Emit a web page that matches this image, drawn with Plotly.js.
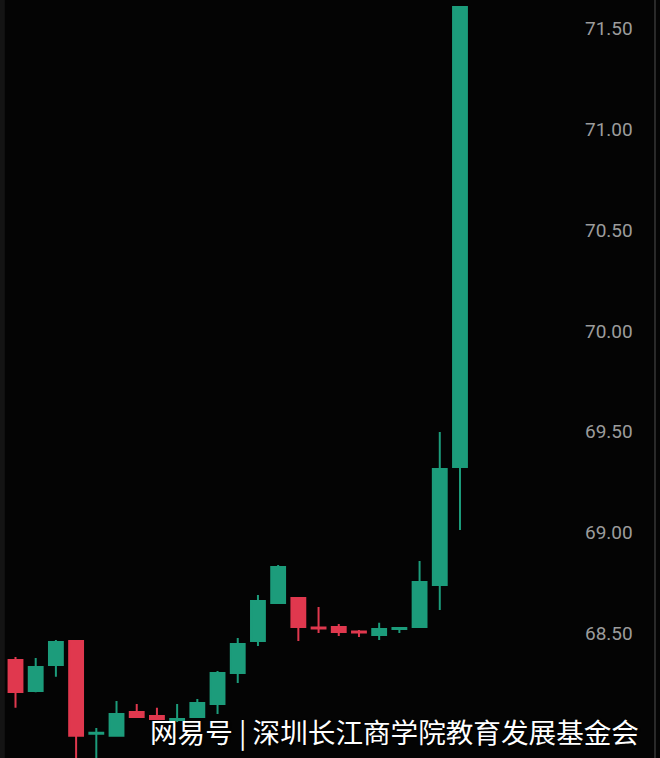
<!DOCTYPE html>
<html>
<head>
<meta charset="utf-8">
<script src="https://cdn.plot.ly/plotly-3.0.1.min.js"></script>
<style>
html,body{margin:0;padding:0;background:#040404;}
#chart{width:660px;height:758px;}
</style>
</head>
<body>
<div id="chart"></div>
<script>
// Candle categories (session index)
var sessions = ['1','2','3','4','5','6','7','8','9','10','11','12','13','14','15','16','17','18','19','20','21','22','23'];
// OHLC values
var openVals  = [68.366, 68.212, 68.341, 68.460, 68.000, 67.989, 68.108, 68.088, 68.068, 68.083, 68.147, 68.301, 68.460, 68.649, 68.674, 68.527, 68.530, 68.507, 68.490, 68.520, 68.530, 68.738, 69.324];
var highVals  = [68.380, 68.376, 68.465, 68.465, 68.028, 68.162, 68.147, 68.128, 68.147, 68.172, 68.311, 68.475, 68.689, 68.838, 68.679, 68.629, 68.545, 68.515, 68.550, 68.530, 68.857, 69.498, 71.610];
var lowVals   = [68.128, 68.205, 68.282, 67.850, 67.850, 67.985, 68.083, 68.070, 68.058, 68.078, 68.098, 68.252, 68.435, 68.644, 68.460, 68.500, 68.485, 68.480, 68.465, 68.500, 68.525, 68.614, 69.011];
var closeVals = [68.207, 68.331, 68.455, 67.989, 68.005, 68.098, 68.083, 68.073, 68.073, 68.152, 68.301, 68.445, 68.659, 68.828, 68.530, 68.522, 68.505, 68.502, 68.520, 68.525, 68.753, 69.314, 71.608];
// Price axis ticks
var priceTicks = [68.5, 69.0, 69.5, 70.0, 70.5, 71.0, 71.5];
var priceTickLabels = ['68.50','69.00','69.50','70.00','70.50','71.00','71.50'];

var upColor = '#1c9c7b';
var downColor = '#e0384e';

var trace = {
  type: 'candlestick',
  x: sessions,
  open: openVals,
  high: highVals,
  low: lowVals,
  close: closeVals,
  increasing: {line: {color: upColor, width: 2}, fillcolor: upColor},
  decreasing: {line: {color: downColor, width: 2}, fillcolor: downColor},
  whiskerwidth: 0,
  hoverinfo: 'skip',
  showlegend: false
};

var layout = {
  width: 660,
  height: 758,
  margin: {l: 0, r: 80, t: 0, b: 0},
  paper_bgcolor: '#040404',
  plot_bgcolor: '#040404',
  boxgap: 0.02,
  showlegend: false,
  xaxis: {
    type: 'category',
    range: [-0.767, 27.94],
    visible: false,
    showgrid: false,
    zeroline: false,
    rangeslider: {visible: false},
    fixedrange: true
  },
  yaxis: {
    side: 'right',
    range: [67.879, 71.643],
    tickvals: priceTicks,
    ticktext: priceTickLabels,
    showgrid: false,
    zeroline: false,
    showline: false,
    ticks: '',
    ticklabelstandoff: 4,
    tickfont: {family: 'Roboto, "Liberation Sans", sans-serif', size: 19, color: '#9c9c9c'},
    fixedrange: true
  },
  shapes: [
    {type: 'line', xref: 'paper', yref: 'paper', x0: 1.1293, x1: 1.1293, y0: 0, y1: 1,
     line: {color: '#2a2a2a', width: 2}},
    {type: 'line', xref: 'paper', yref: 'paper', x0: 0.004, x1: 0.004, y0: 0, y1: 1,
     line: {color: '#141414', width: 5}}
  ],
  annotations: [
    {
      xref: 'paper', yref: 'paper',
      x: 1.105, y: 0.036, xanchor: 'right', yanchor: 'middle',
      showarrow: false,
      text: '网易号 | 深圳长江商学院教育发展基金会',
      font: {family: '"Noto Sans CJK SC", sans-serif', size: 27.6, color: '#ffffff',
             shadow: '1px 1px 2px #000'}
    }
  ]
};

Plotly.newPlot('chart', [trace], layout, {displayModeBar: false, staticPlot: true});
</script>
</body>
</html>
